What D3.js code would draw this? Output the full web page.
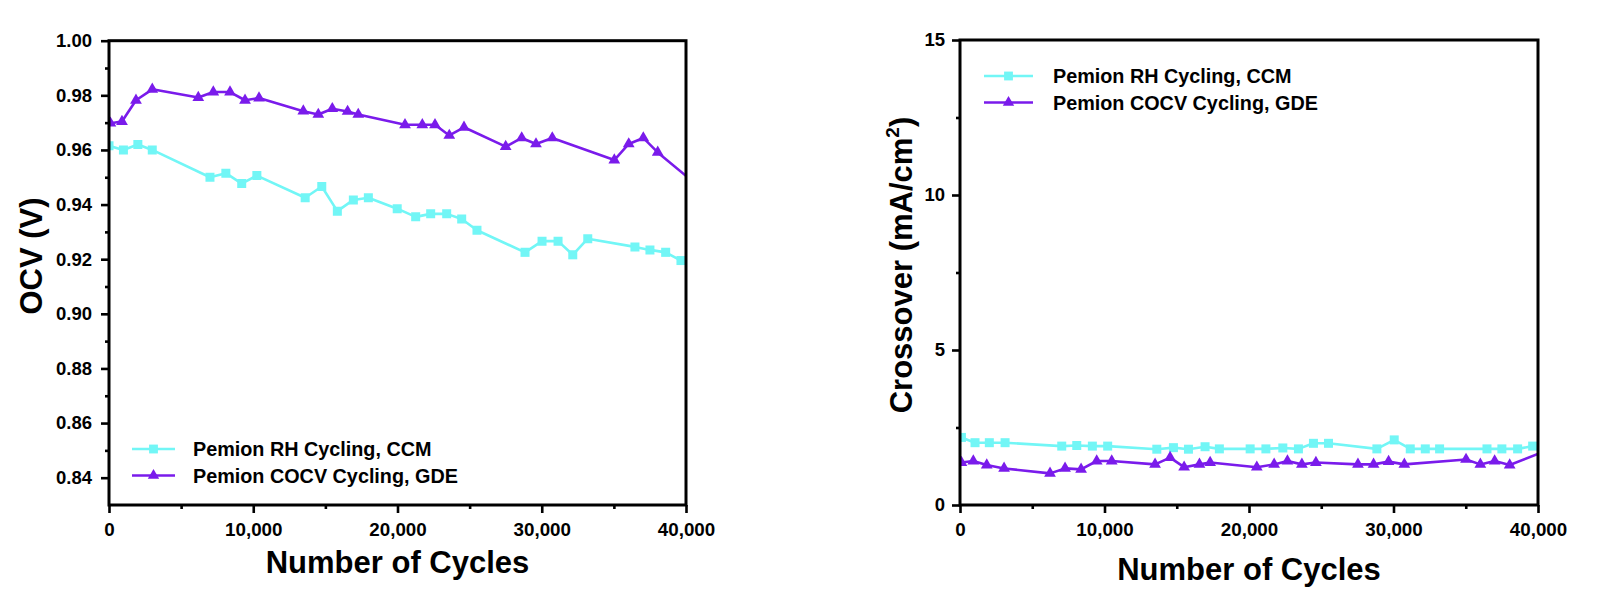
<!DOCTYPE html>
<html>
<head>
<meta charset="utf-8">
<script src="https://cdn.jsdelivr.net/npm/d3@7"></script>
<style>
  html, body { margin: 0; padding: 0; background: #fff; }
  svg { display: block; }
  text { font-family: "Liberation Sans", Arial, sans-serif; font-weight: bold; fill: #000; }
</style>
</head>
<body>
<svg id="chart" width="1606" height="610"></svg>
<script>
// ---------- DATA ----------
const seriesNames = ["Pemion RH Cycling, CCM", "Pemion COCV Cycling, GDE"];
const seriesColors = ["#72F6F6", "#7A1BEB"];

// Left panel: OCV (V)
const ocvRhCycles = [0, 1000, 2000, 3000, 7000, 8100, 9200, 10250, 13600, 14750, 15830, 16940, 17980, 19980, 21260, 22300, 23410, 24450, 25510, 28840, 30020, 31130, 32150, 33190, 36460, 37500, 38590, 39650];
const ocvRhValues = [0.9615, 0.960, 0.962, 0.960, 0.950, 0.9515, 0.9477, 0.9506, 0.9425, 0.9466, 0.9376, 0.9417, 0.9425, 0.9385, 0.9355, 0.9366, 0.9366, 0.9347, 0.9306, 0.9225, 0.9266, 0.9266, 0.9216, 0.9275, 0.9245, 0.9234, 0.9225, 0.9195];
const ocvCocvCycles = [100, 900, 1870, 3000, 6190, 7230, 8390, 9430, 10400, 13470, 14510, 15480, 16540, 17280, 20520, 21720, 22600, 23590, 24610, 27500, 28610, 29600, 30730, 35030, 36030, 37040, 38040, 41000];
const ocvCocvValues = [0.9698, 0.9704, 0.9782, 0.9822, 0.9792, 0.9812, 0.9812, 0.9782, 0.979, 0.9742, 0.973, 0.9751, 0.9741, 0.973, 0.9692, 0.9692, 0.9692, 0.9653, 0.9683, 0.9612, 0.9644, 0.9622, 0.9644, 0.9563, 0.9622, 0.9644, 0.9591, 0.9461];

// Right panel: Crossover (mA/cm2)
const xoRhCycles = [100, 1040, 2030, 3120, 7040, 8080, 9160, 10220, 13620, 14770, 15810, 16960, 17950, 20080, 21170, 22340, 23420, 24460, 25500, 28850, 30050, 31160, 32200, 33190, 36470, 37500, 38590, 39630];
const xoRhValues = [2.18, 2.01, 2.01, 2.01, 1.90, 1.92, 1.90, 1.90, 1.80, 1.85, 1.80, 1.88, 1.81, 1.81, 1.81, 1.84, 1.81, 1.99, 1.99, 1.81, 2.10, 1.81, 1.81, 1.81, 1.81, 1.81, 1.81, 1.90];
const xoCocvCycles = [100, 920, 1850, 3050, 6230, 7270, 8380, 9460, 10500, 13500, 14540, 15510, 16570, 17310, 20540, 21740, 22660, 23660, 24630, 27540, 28620, 29660, 30750, 35020, 36010, 37000, 38040, 41000];
const xoCocvValues = [1.37, 1.42, 1.29, 1.18, 1.02, 1.18, 1.15, 1.42, 1.42, 1.31, 1.53, 1.22, 1.31, 1.37, 1.22, 1.31, 1.42, 1.31, 1.37, 1.31, 1.31, 1.40, 1.31, 1.47, 1.31, 1.42, 1.29, 1.83];

const xMajorTicks = [0, 10000, 20000, 30000, 40000];
const xMinorTicks = [5000, 15000, 25000, 35000];
const ocvMajorTicks = [0.84, 0.86, 0.88, 0.90, 0.92, 0.94, 0.96, 0.98, 1.00];
const ocvMinorTicks = [0.85, 0.87, 0.89, 0.91, 0.93, 0.95, 0.97, 0.99];
const xoMajorTicks = [0, 5, 10, 15];
const xoMinorTicks = [2.5, 7.5, 12.5];

const xTitle = "Number of Cycles";
const ocvTitle = "OCV (V)";

// ---------- DRAW ----------
const svg = d3.select("#chart");

function panel(cfg) {
  const g = svg.append("g");
  const x = d3.scaleLinear().domain([0, 40000]).range([cfg.left, cfg.right]);
  const y = d3.scaleLinear().domain(cfg.yDomain).range([cfg.bottom, cfg.top]);

  const clipId = "clip" + cfg.id;
  svg.append("clipPath").attr("id", clipId)
    .append("rect").attr("x", cfg.left).attr("y", cfg.top)
    .attr("width", cfg.right - cfg.left).attr("height", cfg.bottom - cfg.top);

  // minor ticks
  g.append("g").attr("transform", `translate(0,${cfg.bottom})`)
    .call(d3.axisBottom(x).tickValues(xMinorTicks).tickSize(4).tickSizeOuter(0).tickFormat(""))
    .call(a => a.select(".domain").remove())
    .call(a => a.selectAll("line").attr("stroke", "#000").attr("stroke-width", 2.6));
  g.append("g").attr("transform", `translate(${cfg.left},0)`)
    .call(d3.axisLeft(y).tickValues(cfg.yMinor).tickSize(4).tickSizeOuter(0).tickFormat(""))
    .call(a => a.select(".domain").remove())
    .call(a => a.selectAll("line").attr("stroke", "#000").attr("stroke-width", 2.6));

  // major ticks
  g.append("g").attr("transform", `translate(0,${cfg.bottom})`)
    .call(d3.axisBottom(x).tickValues(xMajorTicks).tickSize(8).tickSizeOuter(0).tickPadding(10).tickFormat(d3.format(",")))
    .call(a => a.select(".domain").remove())
    .call(a => a.selectAll("line").attr("stroke", "#000").attr("stroke-width", 2.6))
    .call(a => a.selectAll("text").attr("font-size", 18.8).attr("font-family", null).attr("fill", "#000"));
  g.append("g").attr("transform", `translate(${cfg.left},0)`)
    .call(d3.axisLeft(y).tickValues(cfg.yMajor).tickSize(8).tickSizeOuter(0).tickPadding(cfg.yPad).tickFormat(cfg.yFormat))
    .call(a => a.select(".domain").remove())
    .call(a => a.selectAll("line").attr("stroke", "#000").attr("stroke-width", 2.6))
    .call(a => a.selectAll("text").attr("font-size", 18.5).attr("font-family", null).attr("fill", "#000"));

  // series
  const plot = g.append("g").attr("clip-path", `url(#${clipId})`);
  cfg.series.forEach((s, i) => {
    const pts = s.xs.map((c, k) => [c, s.ys[k]]);
    plot.append("path")
      .attr("d", d3.line().x(d => x(d[0])).y(d => y(d[1]))(pts))
      .attr("fill", "none").attr("stroke", seriesColors[i]).attr("stroke-width", 2.6)
      .attr("stroke-linejoin", "round");
    const sym = i === 0 ? d3.symbol(d3.symbolSquare, 81) : d3.symbol(d3.symbolTriangle, 60);
    plot.selectAll(null).data(pts).enter().append("path")
      .attr("d", sym)
      .attr("transform", d => `translate(${x(d[0])},${y(d[1])})`)
      .attr("fill", seriesColors[i]);
  });

  // frame
  g.append("rect").attr("x", cfg.left).attr("y", cfg.top)
    .attr("width", cfg.right - cfg.left).attr("height", cfg.bottom - cfg.top)
    .attr("fill", "none").attr("stroke", "#000").attr("stroke-width", 3);

  // legend
  seriesNames.forEach((name, i) => {
    const ly = cfg.legY + i * 26.5;
    g.append("line").attr("x1", cfg.legX).attr("x2", cfg.legX + cfg.legLen)
      .attr("y1", ly).attr("y2", ly).attr("stroke", seriesColors[i]).attr("stroke-width", 2.6);
    const sym = i === 0 ? d3.symbol(d3.symbolSquare, 78) : d3.symbol(d3.symbolTriangle, 56);
    g.append("path").attr("d", sym).attr("transform", `translate(${cfg.legX + cfg.legLen / 2},${ly})`)
      .attr("fill", seriesColors[i]);
    g.append("text").attr("x", cfg.legText).attr("y", ly).attr("dy", "0.36em")
      .attr("font-size", 19.8).text(name);
  });

  // x title
  g.append("text").attr("x", (cfg.left + cfg.right) / 2).attr("y", cfg.xTitleY)
    .attr("text-anchor", "middle").attr("font-size", 31).text(xTitle);

  return { g, x, y };
}

const L = panel({
  id: "L", left: 109, right: 686, top: 40.7, bottom: 505,
  yDomain: [0.83, 1.00], yMajor: ocvMajorTicks, yMinor: ocvMinorTicks,
  yFormat: d3.format(".2f"), yPad: 9,
  series: [{ xs: ocvRhCycles, ys: ocvRhValues }, { xs: ocvCocvCycles, ys: ocvCocvValues }],
  legX: 132, legLen: 43, legText: 193, legY: 449, xTitleY: 573
});
L.g.append("text").attr("transform", "translate(42,256) rotate(-90)")
  .attr("text-anchor", "middle").attr("font-size", 31).text(ocvTitle);

const R = panel({
  id: "R", left: 960, right: 1538, top: 40, bottom: 505,
  yDomain: [0, 15], yMajor: xoMajorTicks, yMinor: xoMinorTicks,
  yFormat: d3.format("d"), yPad: 7,
  series: [{ xs: xoRhCycles, ys: xoRhValues }, { xs: xoCocvCycles, ys: xoCocvValues }],
  legX: 984, legLen: 49, legText: 1053, legY: 76, xTitleY: 580
});
const yt = R.g.append("text").attr("transform", "translate(912,265) rotate(-90)")
  .attr("text-anchor", "middle").attr("font-size", 31);
yt.append("tspan").text("Crossover (mA/cm");
yt.append("tspan").attr("font-size", 19).attr("dy", -13).text("2");
yt.append("tspan").attr("dy", 13).text(")");
</script>
</body>
</html>
